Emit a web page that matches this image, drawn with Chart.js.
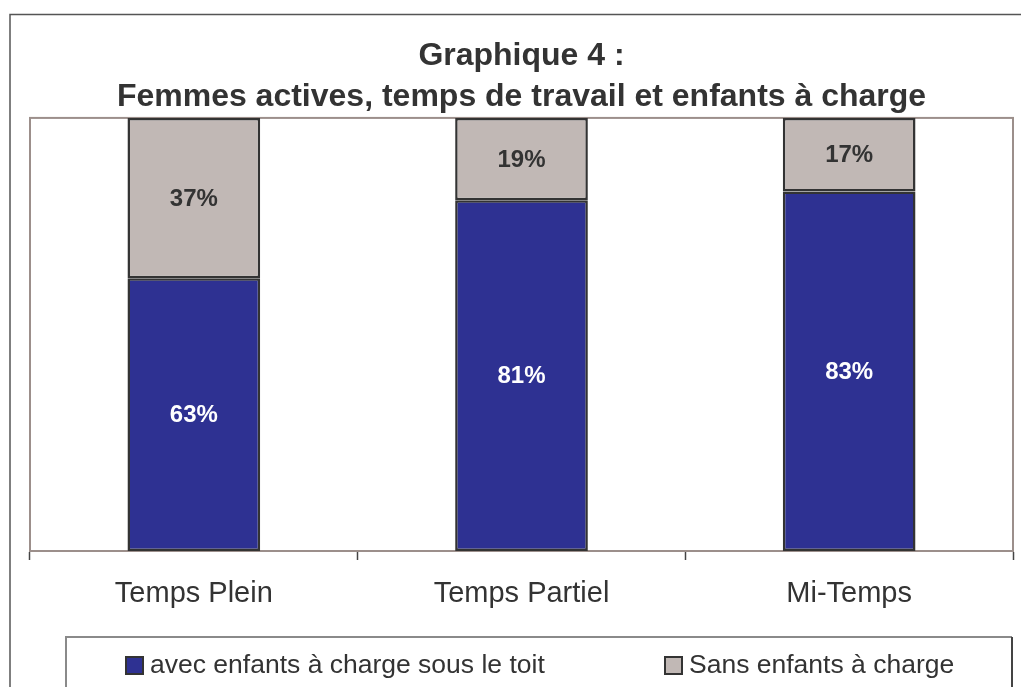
<!DOCTYPE html>
<html>
<head>
<meta charset="utf-8">
<script src="https://cdn.jsdelivr.net/npm/chart.js@4"></script>
<style>
  html, body { margin: 0; padding: 0; background: #fff; }
  #wrap { width: 1021px; height: 687px; position: relative; }
</style>
</head>
<body>
<div id="wrap"><canvas id="chart"></canvas></div>
<script>
'use strict';

// ── Data ──────────────────────────────────────────────────
const categories = ['Temps Plein', 'Temps Partiel', 'Mi-Temps'];
const avecEnfants = [63, 81, 83];
const sansEnfants = [37, 19, 17];
const seriesLabels = ['avec enfants à charge sous le toit', 'Sans enfants à charge'];
const titleLines = ['Graphique 4 :', 'Femmes actives, temps de travail et enfants à charge'];

const BLUE = '#2E3192';
const GREY = '#C1B8B5';
const INK = '#333333';
const FONT = "'Liberation Sans', Arial, sans-serif";

// ── Frame, plot border, legend box ────────────────────────
const framePlugin = {
    id: 'frame',
    beforeDraw(chart) {
        const ctx = chart.ctx;
        ctx.save();
        ctx.strokeStyle = '#555';
        ctx.lineWidth = 1.5;
        ctx.beginPath();
        ctx.moveTo(10, 687);
        ctx.lineTo(10, 14.5);
        ctx.lineTo(1021, 14.5);
        ctx.stroke();
        ctx.restore();
    },
    beforeDatasetsDraw(chart) {
        const { ctx, chartArea: a } = chart;
        ctx.save();
        ctx.strokeStyle = '#9C8F8B';
        ctx.lineWidth = 2;
        ctx.strokeRect(a.left, a.top, a.right - a.left, a.bottom - a.top);
        ctx.restore();
    },
    afterDraw(chart) {
        const ctx = chart.ctx;
        ctx.save();
        // legend box
        ctx.strokeStyle = '#8A8A8A';
        ctx.lineWidth = 2;
        ctx.beginPath();
        ctx.moveTo(66, 700);
        ctx.lineTo(66, 637);
        ctx.lineTo(1012, 637);
        ctx.stroke();
        ctx.strokeStyle = '#444';
        ctx.beginPath();
        ctx.moveTo(1012, 637);
        ctx.lineTo(1012, 700);
        ctx.stroke();

        // legend items
        const itemX = [126, 665];
        ctx.font = '26.5px ' + FONT;
        ctx.textBaseline = 'alphabetic';
        chart.data.datasets.forEach((ds, i) => {
            const x = itemX[i];
            ctx.fillStyle = ds.backgroundColor;
            ctx.fillRect(x, 657, 17, 17);
            ctx.strokeStyle = INK;
            ctx.lineWidth = 2;
            ctx.strokeRect(x, 657, 17, 17);
            ctx.fillStyle = INK;
            ctx.fillText(ds.label, x + 24, 673);
        });
        ctx.restore();
    },
};

// ── Value labels inside bar segments ──────────────────────
const valueLabels = {
    id: 'valueLabels',
    afterDatasetsDraw(chart) {
        const ctx = chart.ctx;
        ctx.save();
        ctx.font = 'bold 24px ' + FONT;
        ctx.textAlign = 'center';
        ctx.textBaseline = 'middle';
        chart.data.datasets.forEach((ds, i) => {
            const meta = chart.getDatasetMeta(i);
            ctx.fillStyle = i === 0 ? '#FFFFFF' : INK;
            meta.data.forEach((bar, j) => {
                const y = (bar.y + bar.base) / 2;
                ctx.fillText(ds.data[j] + '%', bar.x, y + 1);
            });
        });
        ctx.restore();
    },
};

new Chart(document.getElementById('chart'), {
    type: 'bar',
    data: {
        labels: categories,
        datasets: [
            {
                label: seriesLabels[0],
                data: avecEnfants,
                backgroundColor: BLUE,
                borderColor: INK,
                borderWidth: 2.5,
                borderSkipped: false,
            },
            {
                label: seriesLabels[1],
                data: sansEnfants,
                backgroundColor: GREY,
                borderColor: INK,
                borderWidth: 2.5,
                borderSkipped: false,
            },
        ],
    },
    options: {
        responsive: true,
        maintainAspectRatio: false,
        animation: false,
        devicePixelRatio: 1,
        categoryPercentage: 1,
        barPercentage: 0.405,
        layout: { padding: { top: 0, left: 30, right: 8, bottom: 0 } },
        scales: {
            x: {
                stacked: true,
                afterFit: (s) => { s.height = 136; },
                grid: {
                    offset: true,
                    drawOnChartArea: false,
                    drawTicks: true,
                    tickLength: 9,
                    tickWidth: 1.5,
                    tickColor: '#444',
                },
                border: { display: true, color: '#7d716d', width: 2 },
                ticks: {
                    color: INK,
                    padding: 17,
                    font: { family: FONT, size: 29 },
                },
            },
            y: {
                stacked: true,
                display: false,
                min: 0,
                max: 100,
            },
        },
        plugins: {
            legend: { display: false },
            tooltip: { enabled: false },
            title: {
                display: true,
                text: titleLines,
                color: INK,
                font: { family: FONT, size: 32, weight: 'bold', lineHeight: 1.28 },
                padding: { top: 36, bottom: 0 },
            },
        },
    },
    plugins: [framePlugin, valueLabels],
});
</script>
</body>
</html>
